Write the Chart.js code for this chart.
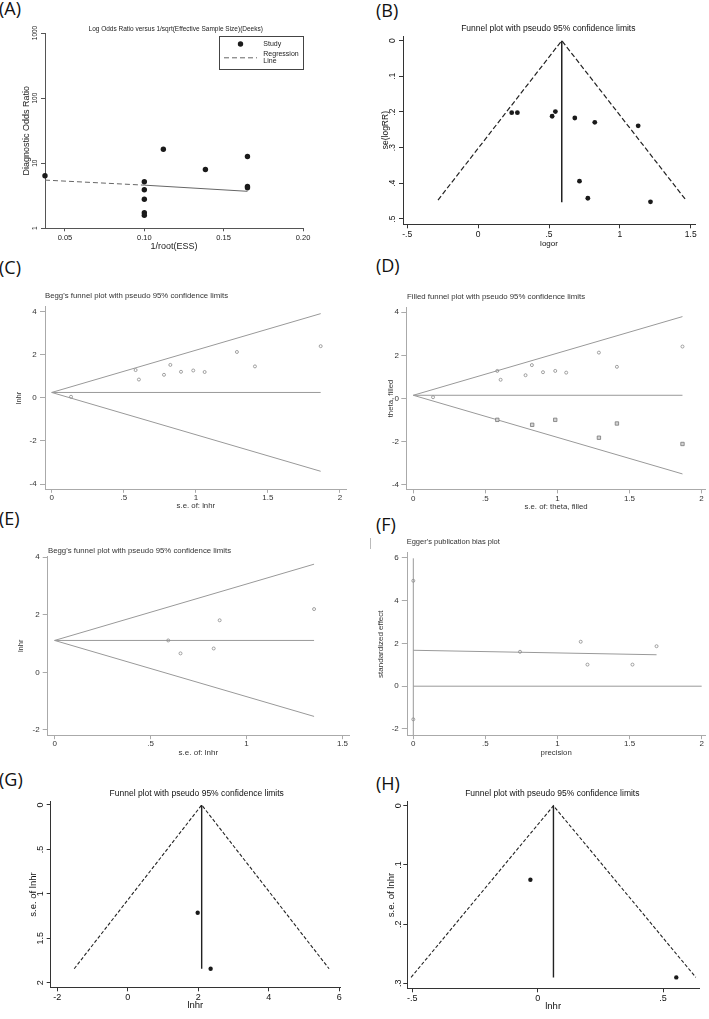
<!DOCTYPE html>
<html><head><meta charset="utf-8">
<script src="https://cdn.jsdelivr.net/npm/chart.js@4.4.1/dist/chart.umd.min.js"></script>
<style>
html,body{margin:0;padding:0;background:#fff}
body{width:709px;height:1019px;position:relative;overflow:hidden}
canvas{position:absolute}
.lab{position:absolute;font-family:"Open Sans","Liberation Sans",sans-serif;font-size:18px;line-height:18px;color:#111;white-space:nowrap}
</style></head><body>
<div class="lab" style="left:-1px;top:-1px">(A)</div>
<div class="lab" style="left:376px;top:1px">(B)</div>
<div class="lab" style="left:-1px;top:258px">(C)</div>
<div class="lab" style="left:376px;top:256px">(D)</div>
<div class="lab" style="left:-1px;top:509px">(E)</div>
<div class="lab" style="left:376px;top:515px">(F)</div>
<div class="lab" style="left:-1px;top:770px">(G)</div>
<div class="lab" style="left:376px;top:774px">(H)</div>
<div style="position:absolute;left:370px;top:538px;width:1px;height:11px;background:#bbb"></div>
<script>
// ---------- DATA ----------
// (A) Deeks
const aStudyX = [0.0374, 0.100, 0.100, 0.100, 0.100, 0.100, 0.112, 0.1385, 0.165, 0.165, 0.165];
const aStudyY = [6.4, 5.2, 3.9, 2.8, 1.74, 1.58, 16.4, 8.0, 12.7, 4.4, 4.2];
const aRegX = [0.0374, 0.100, 0.165];
const aRegY = [5.5, 4.6, 3.7];
const aXTicks = [0.05, 0.10, 0.15, 0.20];
const aYTicks = [1, 10, 100, 1000];

// (B) funnel
const bLogor = [0.237, 0.277, 0.522, 0.545, 0.682, 0.823, 1.129, 0.715, 0.774, 1.216];
const bSe = [0.202, 0.202, 0.212, 0.199, 0.217, 0.229, 0.239, 0.394, 0.442, 0.452];
const bFunnelX = [-0.283, 0.59, 1.466];
const bFunnelY = [0.447, 0, 0.447];
const bCenterX = [0.59, 0.59];
const bCenterY = [0, 0.453];
const bXTicks = [-0.5, 0, 0.5, 1, 1.5];
const bYTicks = [0, 0.1, 0.2, 0.3, 0.4, 0.5];

// (C) Begg
const cSe = [0.134, 0.582, 0.605, 0.779, 0.823, 0.897, 0.982, 1.061, 1.285, 1.41, 1.866];
const cLnhr = [0.05, 1.29, 0.85, 1.07, 1.53, 1.21, 1.27, 1.20, 2.13, 1.46, 2.40];
const cLimitX = [0, 1.866];
const cUpperY = [0.25, 3.91];
const cLowerY = [0.25, -3.41];
const cCenterY = [0.25, 0.25];
const cXTicks = [0, 0.5, 1, 1.5, 2];
const cYTicks = [-4, -2, 0, 2, 4];

// (D) filled funnel
const dSe = [0.137, 0.583, 0.606, 0.779, 0.823, 0.900, 0.985, 1.061, 1.288, 1.413, 1.868];
const dTheta = [0.06, 1.28, 0.87, 1.08, 1.55, 1.22, 1.28, 1.20, 2.13, 1.47, 2.41];
const dFilledSe = [0.583, 0.825, 0.985, 1.288, 1.413, 1.868];
const dFilledTheta = [-0.99, -1.22, -0.99, -1.82, -1.16, -2.11];
const dLimitX = [0, 1.868];
const dUpperY = [0.15, 3.80];
const dLowerY = [0.15, -3.50];
const dCenterY = [0.15, 0.15];
const dXTicks = [0, 0.5, 1, 1.5, 2];
const dYTicks = [-4, -2, 0, 2, 4];

// (E) Begg
const eSe = [0.592, 0.656, 0.829, 0.860, 1.352];
const eLnhr = [1.11, 0.66, 0.83, 1.81, 2.20];
const eLimitX = [0, 1.352];
const eUpperY = [1.11, 3.76];
const eLowerY = [1.11, -1.53];
const eCenterY = [1.11, 1.11];
const eXTicks = [0, 0.5, 1, 1.5];
const eYTicks = [-2, 0, 2, 4];

// (F) Egger
const fPrecision = [0, 0, 0.74, 1.161, 1.208, 1.52, 1.687];
const fEffect = [4.93, -1.55, 1.61, 2.08, 1.01, 1.01, 1.87];
const fCiX = [0, 0];
const fCiY = [-2.3, 5.98];
const fRegX = [0, 1.687];
const fRegY = [1.68, 1.47];
const fZeroX = [0, 2.0];
const fZeroY = [0, 0];
const fXTicks = [0, 0.5, 1, 1.5, 2];
const fYTicks = [-2, 0, 2, 4, 6];

// (G) funnel
const gLnhr = [1.983, 2.35];
const gSe = [1.213, 1.843];
const gFunnelX = [-1.52, 2.096, 5.71];
const gFunnelY = [1.843, 0, 1.843];
const gCenterX = [2.096, 2.096];
const gCenterY = [0, 1.843];
const gXTicks = [-2, 0, 2, 4, 6];
const gYTicks = [0, 0.5, 1, 1.5, 2];

// (H) funnel
const hLnhr = [-0.029, 0.553];
const hSe = [0.125, 0.29];
const hFunnelX = [-0.505, 0.063, 0.631];
const hFunnelY = [0.29, 0, 0.29];
const hCenterX = [0.063, 0.063];
const hCenterY = [0, 0.29];
const hXTicks = [-0.5, 0, 0.5];
const hYTicks = [0, 0.1, 0.2, 0.3];

// ---------- HELPERS ----------
const FONT = '"Liberation Sans", Arial, Helvetica, sans-serif';
function stataFmt(v){ if (Math.abs(v) < 1e-9) return '0'; const s = String(+(+v).toFixed(4)); return s.replace(/^(-?)0\./, '$1.'); }
function fixedFmt(v){ return (+v).toFixed(2); }
function plainFmt(v){ return String(+v); }
function pts(xs, ys){ return xs.map((x, i) => ({x: x, y: ys[i]})); }

function filledPts(label, xs, ys, r){
  return {label, data: pts(xs, ys), showLine:false, pointRadius:r, pointHoverRadius:r, pointBackgroundColor:'#1a1a1a', pointBorderWidth:0, clip:false};
}
function openPts(label, xs, ys){
  return {label, data: pts(xs, ys), showLine:false, pointRadius:1.5, pointHoverRadius:1.5, pointBackgroundColor:'rgba(255,255,255,0)', pointBorderColor:'#8a8a8a', pointBorderWidth:0.8, clip:false};
}
function squarePts(label, xs, ys){
  return {label, data: pts(xs, ys), showLine:false, pointStyle:'rect', pointRadius:2.4, pointHoverRadius:2.4, pointBackgroundColor:'#d4d4d4', pointBorderColor:'#777', pointBorderWidth:0.8, clip:false};
}
function lineDs(label, xs, ys, color, dash, width){
  return {label, data: pts(xs, ys), showLine:true, pointRadius:0, pointHoverRadius:0, borderColor:color, borderWidth:width||1, borderDash:dash||[], tension:0, fill:false, clip:false};
}

const panelText = {
  id:'panelText',
  afterDraw(chart, args, o){
    if (!o || !o.text) return;
    const ctx = chart.ctx;
    ctx.save();
    ctx.font = o.size + 'px ' + FONT;
    ctx.fillStyle = o.color || '#222';
    ctx.textAlign = o.align || 'center';
    ctx.textBaseline = 'middle';
    ctx.fillText(o.text, o.x - o.ox, o.y - o.oy);
    ctx.restore();
  }
};
const legendBox = {
  id:'legendBox',
  afterDraw(chart, args, o){
    if (!o || !o.rect) return;
    const ctx = chart.ctx, ox = o.ox, oy = o.oy;
    ctx.save();
    ctx.strokeStyle = '#444'; ctx.lineWidth = 1;
    ctx.strokeRect(Math.round(o.rect[0]-ox)+0.5, Math.round(o.rect[1]-oy)+0.5, o.rect[2]-o.rect[0], o.rect[3]-o.rect[1]);
    ctx.font = o.size + 'px ' + FONT; ctx.textBaseline = 'middle'; ctx.textAlign = 'left';
    o.rows.forEach(r => {
      const ds = chart.data.datasets[r.ds];
      const y = r.y - oy;
      if (ds.showLine){
        ctx.save(); ctx.strokeStyle = ds.borderColor; ctx.lineWidth = ds.borderWidth; ctx.setLineDash(ds.borderDash || []);
        ctx.beginPath(); ctx.moveTo(o.symX[0]-ox, y); ctx.lineTo(o.symX[1]-ox, y); ctx.stroke(); ctx.restore();
      } else {
        ctx.beginPath(); ctx.arc((o.symX[0]+o.symX[1])/2 - ox, y, ds.pointRadius, 0, Math.PI*2);
        ctx.fillStyle = ds.pointBackgroundColor; ctx.fill();
      }
      ctx.fillStyle = '#222';
      const lines = ds.label.split('\n');
      lines.forEach((t, i) => ctx.fillText(t, o.textX - ox, y + (i - (lines.length-1)/2) * o.size * 1.05));
    });
    ctx.restore();
  }
};

function makePanel(p){
  const lhY = p.yTitleSize * 1.2, lhX = p.xTitleSize * 1.2;
  const cl = Math.floor(p.yTitleX - lhY/2 - 1);
  const W = p.L - cl;
  const yTitlePad = p.yTitleX - lhY/2 - cl;
  const ct = Math.floor(p.titleY - 8);
  const topPad = p.T - ct;
  const cb = Math.ceil(p.xTitleY + lhX/2 + 1);
  const H = cb - p.B;
  const xTitlePad = cb - (p.xTitleY + lhX/2);
  const cr = Math.min(709, Math.ceil(p.R + 10));
  const rightPad = cr - p.R;
  const cv = document.createElement('canvas');
  cv.width = cr - cl; cv.height = cb - ct;
  cv.style.left = cl + 'px'; cv.style.top = ct + 'px';
  cv.style.width = (cr - cl) + 'px'; cv.style.height = (cb - ct) + 'px';
  document.body.appendChild(cv);

  const yTicksOpt = {autoSkip:false, padding:p.yPad, color:p.textColor, font:{family:FONT, size:p.yTickSize}, callback:(v)=>p.yFmt(v)};
  if (p.yRot){ yTicksOpt.minRotation = 90; yTicksOpt.maxRotation = 90; yTicksOpt.crossAlign = 'center'; }
  else { yTicksOpt.crossAlign = 'near'; }

  new Chart(cv, {
    type:'scatter',
    data:{datasets:p.datasets},
    plugins:[panelText, legendBox],
    options:{
      responsive:false, animation:false, devicePixelRatio:1,
      layout:{padding:{top:topPad, right:rightPad, left:0, bottom:0}},
      events:[],
      plugins:{
        legend:{display:false}, tooltip:{enabled:false}, title:{display:false},
        panelText:{text:p.title, x:p.titleX, y:p.titleY, size:p.titleSize, align:p.titleAlign, color:p.textColor, ox:cl, oy:ct},
        legendBox: p.legend ? Object.assign({ox:cl, oy:ct}, p.legend) : {}
      },
      scales:{
        x:{
          type:'linear', position:'bottom', min:p.xMin, max:p.xMax,
          afterBuildTicks:(s)=>{ s.ticks = p.xTicks.map(v=>({value:v})); },
          afterFit:(s)=>{ s.height = H; s.paddingLeft = 0; s.paddingRight = 0; },
          ticks:{autoSkip:false, maxRotation:0, minRotation:0, padding:p.xPad, color:p.textColor, font:{family:FONT, size:p.xTickSize}, callback:(v)=>p.xFmt(v)},
          grid:{display:true, drawOnChartArea:false, drawTicks:true, tickLength:p.xTl, color:p.axisColor, lineWidth:1},
          border:{display:true, color:p.axisColor, width:1},
          title:{display:true, text:p.xTitle, color:p.textColor, font:{family:FONT, size:p.xTitleSize}, padding:{top:0, bottom:xTitlePad}}
        },
        y:{
          type:p.yLog ? 'logarithmic' : 'linear', position:'left', min:p.yMin, max:p.yMax, reverse:!!p.yReverse,
          afterBuildTicks:(s)=>{ s.ticks = p.yTicks.map(v=>({value:v})); },
          afterFit:(s)=>{ s.width = W; s.paddingTop = 0; s.paddingBottom = 0; },
          ticks:yTicksOpt,
          grid:{display:true, drawOnChartArea:false, drawTicks:true, tickLength:p.yTl, color:p.axisColor, lineWidth:1},
          border:{display:true, color:p.axisColor, width:1},
          title:{display:true, text:p.yTitle, color:p.textColor, font:{family:FONT, size:p.yTitleSize}, padding:{top:yTitlePad, bottom:0}}
        }
      }
    }
  });
}

// ---------- PANELS ----------
const aReg = lineDs('Regression\nLine', aRegX, aRegY, '#666', [5,3]);
aReg.segment = {borderDash: (ctx) => ctx.p0DataIndex === 0 ? [5,3] : []};
makePanel({L:45, T:33, R:303, B:228.3, xMin:0.0374, xMax:0.20, yMin:1, yMax:1000, yLog:true,
  xTicks:aXTicks, yTicks:aYTicks, xFmt:fixedFmt, yFmt:plainFmt, axisColor:'#555', textColor:'#222',
  xTickSize:7.5, yTickSize:6.5, yRot:true, xTl:3, xPad:2.5, yTl:4, yPad:-1.8,
  xTitle:'1/root(ESS)', xTitleSize:9, xTitleY:246.7, yTitle:'Diagnostic Odds Ratio', yTitleSize:9, yTitleX:27,
  title:'Log Odds Ratio versus 1/sqrt(Effective Sample Size)(Deeks)', titleX:175.7, titleY:29, titleSize:6.5, titleAlign:'center',
  datasets:[filledPts('Study', aStudyX, aStudyY, 2.7), aReg],
  legend:{rect:[219,36,303,69], rows:[{ds:0, y:44}, {ds:1, y:57.8}], symX:[224,257], textX:263.3, size:7}
});

makePanel({L:403, T:36, R:695, B:224.3, xMin:-0.53, xMax:1.53, yMin:-0.013, yMax:0.515, yReverse:true,
  xTicks:bXTicks, yTicks:bYTicks, xFmt:stataFmt, yFmt:stataFmt, axisColor:'#333', textColor:'#111',
  xTickSize:8.5, yTickSize:8.5, yRot:true, xTl:4, xPad:1.6, yTl:4, yPad:3.2,
  xTitle:'logor', xTitleSize:8, xTitleY:243.3, yTitle:'se(logRR)', yTitleSize:8.5, yTitleX:385.2,
  title:'Funnel plot with pseudo 95% confidence limits', titleX:548.3, titleY:29, titleSize:8.5, titleAlign:'center',
  datasets:[filledPts('Studies', bLogor, bSe, 2.4), lineDs('Pseudo 95% CI', bFunnelX, bFunnelY, '#222', [5,2.5], 1.2), lineDs('Pooled', bCenterX, bCenterY, '#222', [], 1.5)]
});

makePanel({L:45, T:306.7, R:346.7, B:489.3, xMin:-0.0465, xMax:2.0465, yMin:-4.246, yMax:4.232,
  xTicks:cXTicks, yTicks:cYTicks, xFmt:stataFmt, yFmt:stataFmt, axisColor:'#aaa', textColor:'#333',
  xTickSize:8, yTickSize:8, yRot:false, xTl:3.5, xPad:-0.3, yTl:5, yPad:3.3,
  xTitle:'s.e. of: lnhr', xTitleSize:7.8, xTitleY:505.7, yTitle:'lnhr', yTitleSize:7.5, yTitleX:19,
  title:"Begg's funnel plot with pseudo 95% confidence limits", titleX:45, titleY:296, titleSize:7.8, titleAlign:'left',
  datasets:[openPts('lnhr', cSe, cLnhr), lineDs('upper', cLimitX, cUpperY, '#999'), lineDs('lower', cLimitX, cLowerY, '#999'), lineDs('center', cLimitX, cCenterY, '#999')]
});

makePanel({L:406.3, T:307.1, R:706, B:489.9, xMin:-0.0485, xMax:2.0298, yMin:-4.241, yMax:4.241,
  xTicks:dXTicks, yTicks:dYTicks, xFmt:stataFmt, yFmt:stataFmt, axisColor:'#aaa', textColor:'#333',
  xTickSize:8, yTickSize:8, yRot:false, xTl:3.5, xPad:0.1, yTl:5, yPad:2.3,
  xTitle:'s.e. of: theta, filled', xTitleSize:7.8, xTitleY:506.7, yTitle:'theta, filled', yTitleSize:7.8, yTitleX:390.7,
  title:'Filled funnel plot with pseudo 95% confidence limits', titleX:407, titleY:296.7, titleSize:7.8, titleAlign:'left',
  datasets:[openPts('observed', dSe, dTheta), squarePts('filled', dFilledSe, dFilledTheta), lineDs('upper', dLimitX, dUpperY, '#999'), lineDs('lower', dLimitX, dLowerY, '#999'), lineDs('center', dLimitX, dCenterY, '#999')]
});

makePanel({L:47.7, T:556, R:349, B:735.7, xMin:-0.036, xMax:1.534, yMin:-2.2, yMax:4.044,
  xTicks:eXTicks, yTicks:eYTicks, xFmt:stataFmt, yFmt:stataFmt, axisColor:'#aaa', textColor:'#333',
  xTickSize:8, yTickSize:8, yRot:false, xTl:3.5, xPad:0, yTl:5, yPad:3,
  xTitle:'s.e. of: lnhr', xTitleSize:8, xTitleY:752.3, yTitle:'lnhr', yTitleSize:7.5, yTitleX:20.7,
  title:"Begg's funnel plot with pseudo 95% confidence limits", titleX:48, titleY:550.7, titleSize:7.8, titleAlign:'left',
  datasets:[openPts('lnhr', eSe, eLnhr), lineDs('upper', eLimitX, eUpperY, '#999'), lineDs('lower', eLimitX, eLowerY, '#999'), lineDs('center', eLimitX, eCenterY, '#999')]
});

makePanel({L:407.3, T:552.7, R:705, B:735.7, xMin:-0.0416, xMax:2.023, yMin:-2.315, yMax:6.243,
  xTicks:fXTicks, yTicks:fYTicks, xFmt:stataFmt, yFmt:stataFmt, axisColor:'#aaa', textColor:'#333',
  xTickSize:8, yTickSize:8, yRot:false, xTl:3.5, xPad:0, yTl:5.5, yPad:3,
  xTitle:'precision', xTitleSize:7.8, xTitleY:753, yTitle:'standardized effect', yTitleSize:8, yTitleX:380.7,
  title:"Egger's publication bias plot", titleX:406.7, titleY:542, titleSize:7.5, titleAlign:'left',
  datasets:[openPts('studies', fPrecision, fEffect), lineDs('CI', fCiX, fCiY, '#999'), lineDs('regression', fRegX, fRegY, '#999'), lineDs('zero', fZeroX, fZeroY, '#999')]
});

makePanel({L:50.7, T:801.7, R:340, B:987.3, xMin:-2.187, xMax:6.02, yMin:-0.037, yMax:2.052, yReverse:true,
  xTicks:gXTicks, yTicks:gYTicks, xFmt:stataFmt, yFmt:stataFmt, axisColor:'#333', textColor:'#111',
  xTickSize:9, yTickSize:9, yRot:true, xTl:4, xPad:0.8, yTl:4, yPad:-0.55,
  xTitle:'lnhr', xTitleSize:9.5, xTitleY:1005.7, yTitle:'s.e. of lnhr', yTitleSize:9.5, yTitleX:33.3,
  title:'Funnel plot with pseudo 95% confidence limits', titleX:196.7, titleY:793.3, titleSize:8.5, titleAlign:'center',
  datasets:[filledPts('Studies', gLnhr, gSe, 2.2), lineDs('Pseudo 95% CI', gFunnelX, gFunnelY, '#222', [3.5,2], 1.1), lineDs('Pooled', gCenterX, gCenterY, '#222', [], 1.4)]
});

makePanel({L:407.3, T:801.7, R:699, B:988.3, xMin:-0.52, xMax:0.6436, yMin:-0.0068, yMax:0.3084, yReverse:true,
  xTicks:hXTicks, yTicks:hYTicks, xFmt:stataFmt, yFmt:stataFmt, axisColor:'#333', textColor:'#111',
  xTickSize:9, yTickSize:9, yRot:true, xTl:4, xPad:0.6, yTl:4, yPad:1.25,
  xTitle:'lnhr', xTitleSize:9.5, xTitleY:1006.7, yTitle:'s.e. of lnhr', yTitleSize:9.5, yTitleX:391.7,
  title:'Funnel plot with pseudo 95% confidence limits', titleX:552.3, titleY:793.3, titleSize:8.5, titleAlign:'center',
  datasets:[filledPts('Studies', hLnhr, hSe, 2.2), lineDs('Pseudo 95% CI', hFunnelX, hFunnelY, '#222', [3.5,2], 1.1), lineDs('Pooled', hCenterX, hCenterY, '#222', [], 1.4)]
});
</script>
</body></html>
